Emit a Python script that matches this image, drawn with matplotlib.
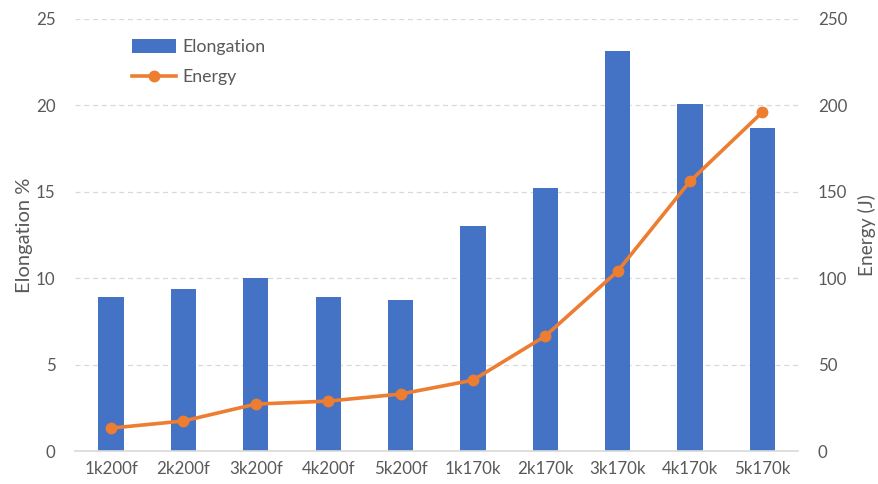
import matplotlib.pyplot as plt
import numpy as np

plt.rcParams['font.family'] = ['Lato', 'DejaVu Sans']

samples = ['1k200f', '2k200f', '3k200f', '4k200f', '5k200f',
           '1k170k', '2k170k', '3k170k', '4k170k', '5k170k']
elongation = [8.9, 9.4, 10.0, 8.9, 8.75, 13.0, 15.2, 23.15, 20.1, 18.7]
energy = [13.3, 17.4, 27.2, 28.9, 33.0, 41.0, 66.5, 104.0, 156.0, 196.0]

bar_color = '#4472C4'
line_color = '#ED7D31'
text_color = '#595959'

fig = plt.figure(figsize=(8.79, 4.84), dpi=100)
ax = fig.add_axes([0.0853, 0.068, 0.823, 0.893])
ax2 = ax.twinx()

x = np.arange(len(samples))
bars = ax.bar(x, elongation, width=0.35, color=bar_color, label='Elongation', zorder=2)
line, = ax2.plot(x, energy, color=line_color, lw=2.6, marker='o', ms=7.5,
                 label='Energy', zorder=3)

ax.set_xlim(-0.5, len(samples) - 0.5)
ax.set_ylim(0, 25)
ax2.set_ylim(0, 250)
ax.set_yticks(np.arange(0, 26, 5))
ax2.set_yticks(np.arange(0, 251, 50))
ax.set_xticks(x)
ax.set_xticklabels(samples)

ax.grid(axis='y', color='#D9D9D9', ls=(0, (4, 3)), lw=0.9, zorder=0)
ax.set_axisbelow(True)

for a in (ax, ax2):
    for s in a.spines.values():
        s.set_visible(False)
    a.tick_params(length=0, colors=text_color, labelsize=12.2)
ax.spines['bottom'].set_visible(True)
ax.spines['bottom'].set_color('#D9D9D9')
ax.spines['bottom'].set_linewidth(1.2)
ax.tick_params(axis='x', pad=7)
ax.tick_params(axis='y', pad=14)
ax2.tick_params(axis='y', pad=14)

ax.set_ylabel('Elongation %', color=text_color, fontsize=14.5, labelpad=2)
ax2.set_ylabel('Energy (J)', color=text_color, fontsize=13.8, labelpad=8)

ax2.set_zorder(ax.get_zorder() + 1)
ax2.patch.set_visible(False)

leg = ax2.legend([bars, line], ['Elongation', 'Energy'], loc='upper left',
                 bbox_to_anchor=(0.057, 0.99), frameon=False, fontsize=12.8,
                 handlelength=2.45, handleheight=0.8, labelspacing=0.8,
                 handletextpad=0.35)
for t in leg.get_texts():
    t.set_color(text_color)

fig.savefig('out.png', dpi=100)
